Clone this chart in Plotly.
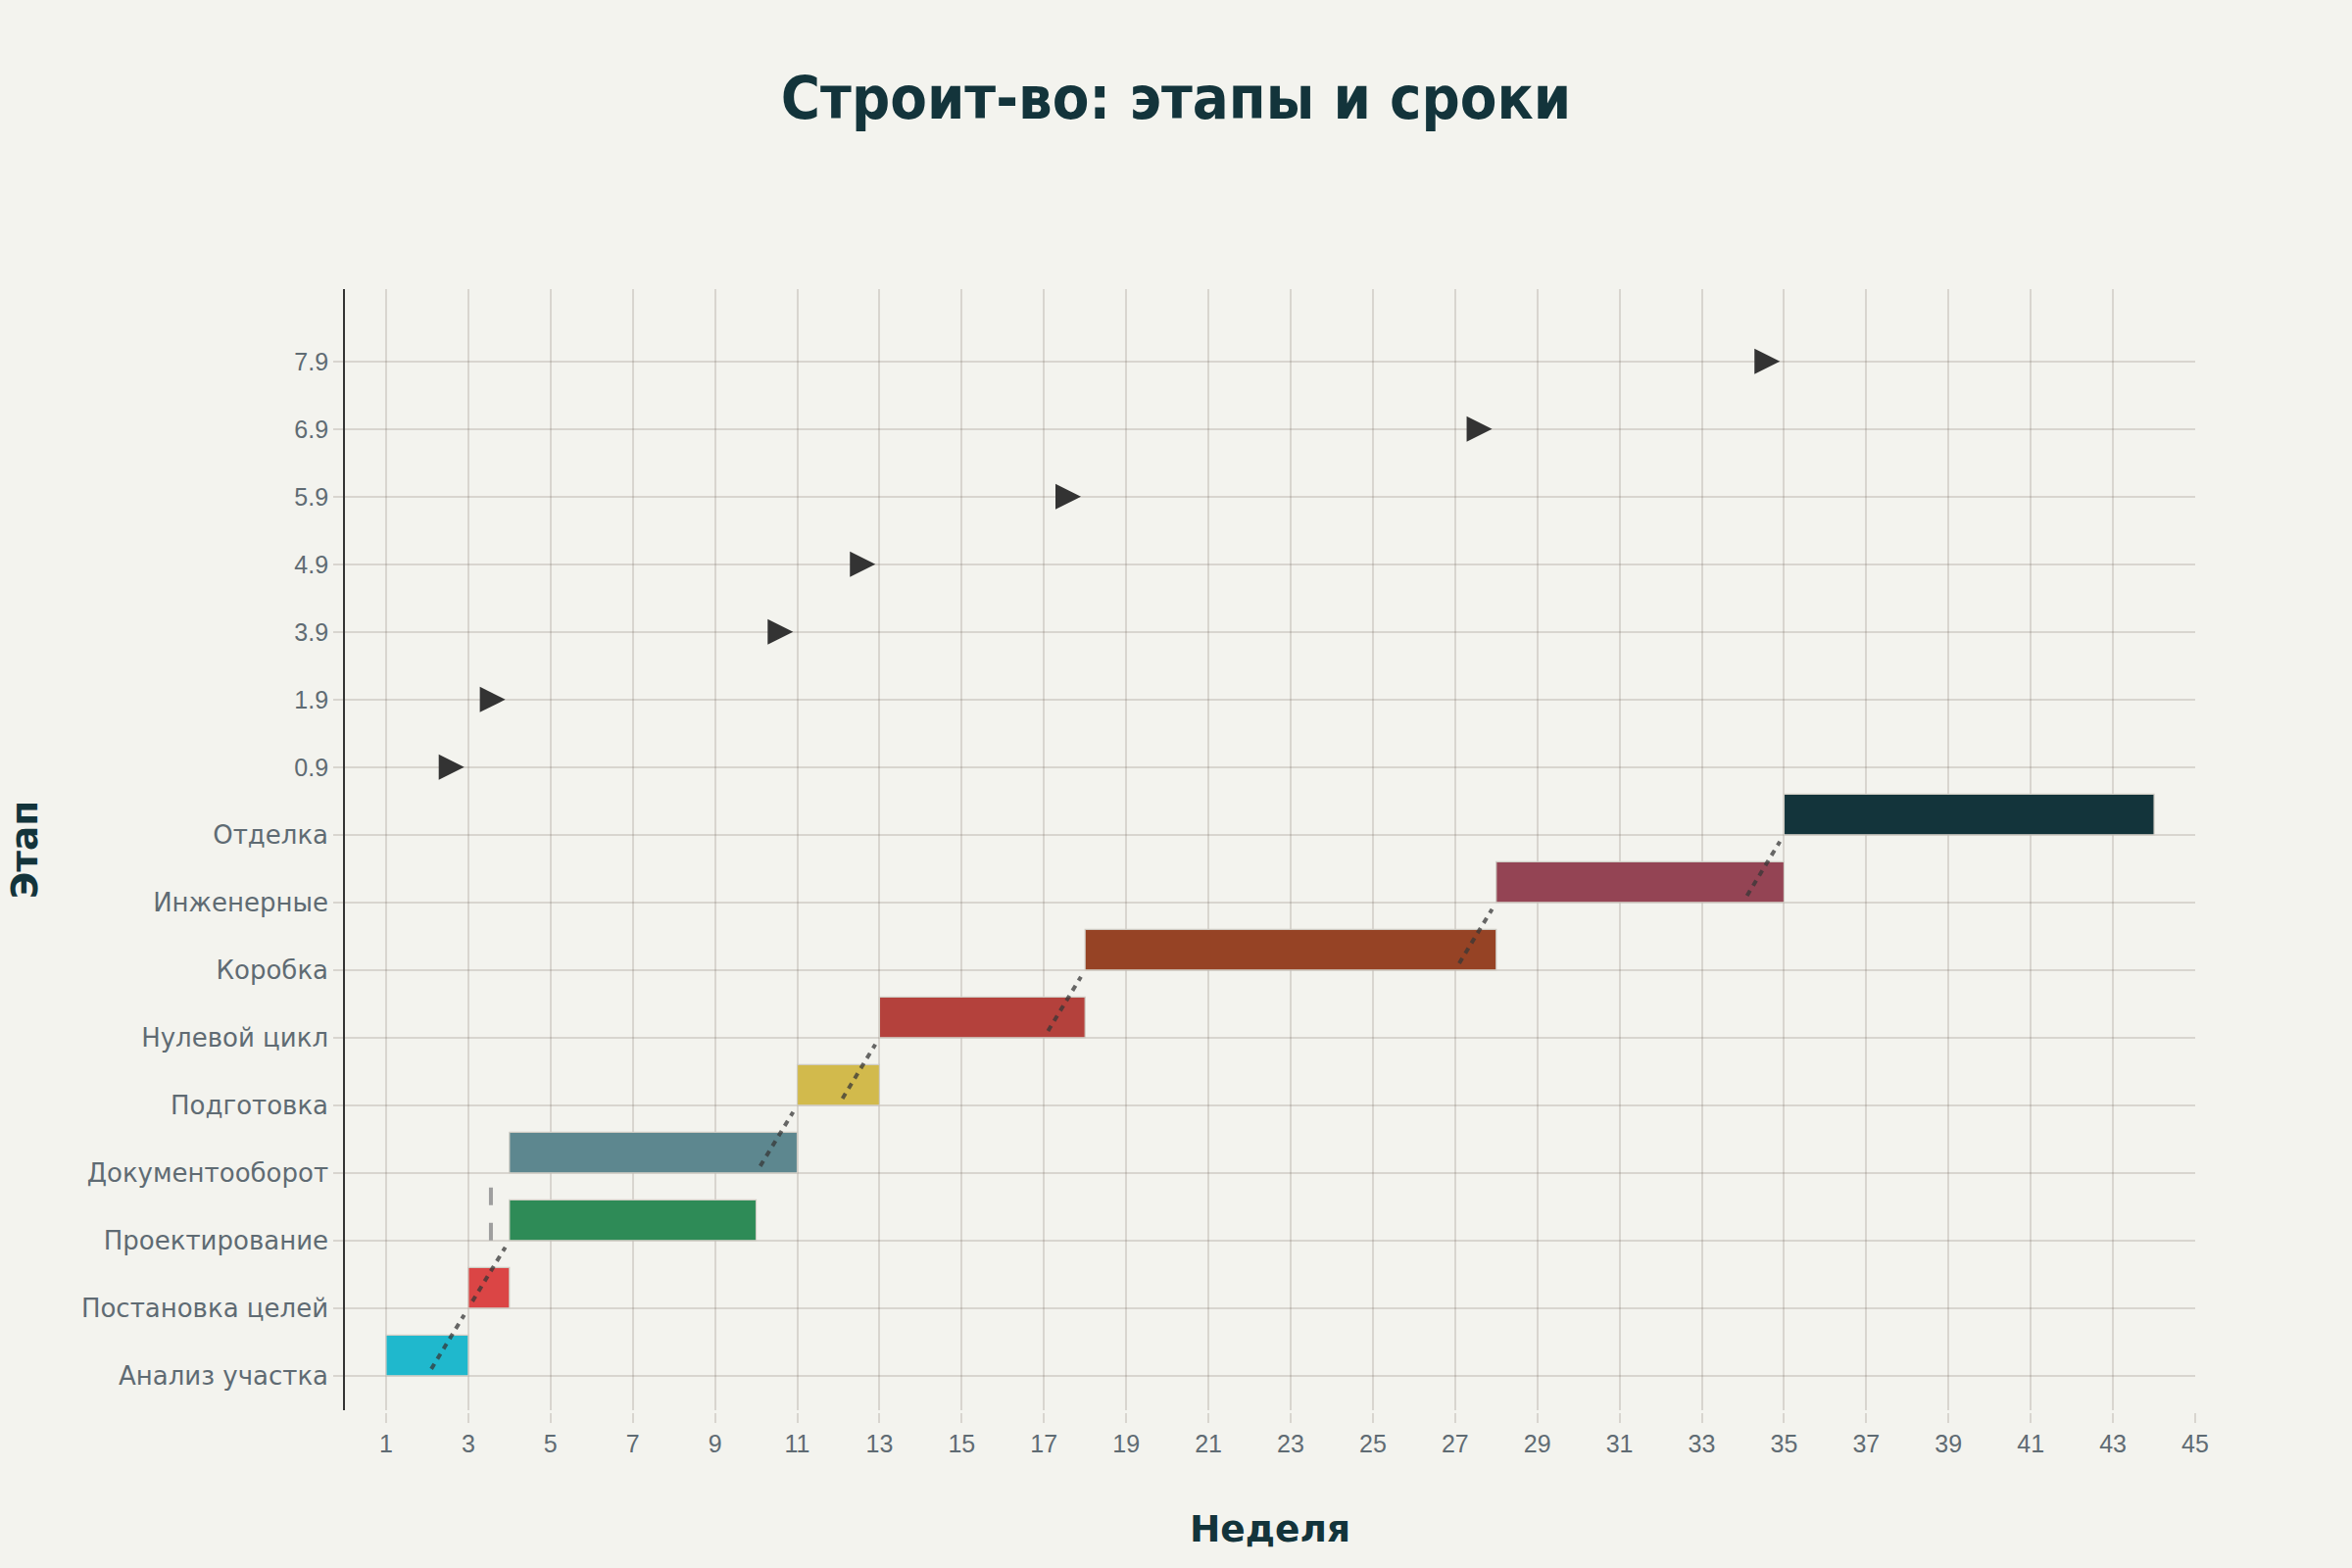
import plotly.graph_objects as go

# ---- data ----
tasks = ["Анализ участка", "Постановка целей", "Проектирование", "Документооборот",
         "Подготовка", "Нулевой цикл", "Коробка", "Инженерные", "Отделка"]
start_week = [1, 3, 4, 4, 11, 13, 18, 28, 35]
end_week = [3, 4, 10, 11, 13, 18, 28, 35, 44]
bar_colors = ["#1FB8CD", "#DB4545", "#2E8B57", "#5D878F", "#D2BA4C",
              "#B4413C", "#964325", "#944454", "#13343B"]
# finish-to-start links: (predecessor index, successor index)
fs_links = [(0, 1), (1, 2), (3, 4), (4, 5), (5, 6), (6, 7), (7, 8)]
# start-to-start links
ss_links = [(2, 3)]
x_tick_start, x_tick_step = 1, 2

# ---- derived ----
durations = [e - s for s, e in zip(start_week, end_week)]
arrow_x = [start_week[s] - 0.1 for p, s in fs_links]
arrow_cat = [f"{s - 0.1:.1f}" for p, s in fs_links]
categories = tasks + arrow_cat

link_x, link_y = [], []
for p, s in fs_links:
    link_x += [end_week[p] - 0.9, start_week[s] - 0.1, None]
    link_y += [p + 0.1, s - 0.1, None]
ss_x, ss_y = [], []
for p, s in ss_links:
    xv = start_week[p] - 0.45
    ss_x += [xv, xv, None]
    ss_y += [p, s - 0.2, None]

BG = "#F3F3EE"
GRID = "rgba(110,95,85,0.2)"
TICKC = "#5F6B73"
DARK = "#13343B"
Y_RANGE = [-0.51, 16.07]

fig = go.Figure()
fig.add_trace(go.Bar(
    y=tasks, x=durations, base=start_week, orientation="h",
    width=0.6, offset=0,
    marker=dict(color=bar_colors, line=dict(color="#CFCCC4", width=1.2)),
    showlegend=False, hoverinfo="skip",
))
fig.add_trace(go.Scatter(
    x=arrow_x, y=arrow_cat, mode="markers",
    marker=dict(symbol="arrow-right", size=26, color="#333333"),
    showlegend=False, hoverinfo="skip",
))
fig.add_trace(go.Scatter(
    x=link_x, y=link_y, yaxis="y2", mode="lines",
    line=dict(color="rgba(55,55,55,0.75)", width=4, dash="6px,6px"),
    showlegend=False, hoverinfo="skip",
))
fig.add_trace(go.Scatter(
    x=ss_x, y=ss_y, yaxis="y2", mode="lines",
    line=dict(color="#9E9E9E", width=4, dash="18px,18px"),
    showlegend=False, hoverinfo="skip",
))

tick_text = []
for c in categories:
    if c in tasks:
        tick_text.append(c)
    else:
        tick_text.append(f'<span style="font-family:Liberation Sans;font-size:25px">{c}</span>')

fig.update_layout(
    width=2400, height=1600,
    paper_bgcolor=BG, plot_bgcolor=BG,
    margin=dict(l=352, r=160, t=295, b=161),
    showlegend=False,
    title=dict(text="<b>Строит-во: этапы и сроки</b>", x=0.5, xanchor="center",
               y=0.938, yanchor="middle",
               font=dict(family="DejaVu Sans Condensed, DejaVu Sans", size=61, color=DARK)),
    xaxis=dict(
        range=[0, 45], tick0=x_tick_start, dtick=x_tick_step,
        showgrid=True, gridcolor=GRID, gridwidth=2, zeroline=False,
        ticks="outside", ticklen=10, tickwidth=1.5, tickcolor=GRID,
        showline=True, linecolor="rgba(0,0,0,0)", linewidth=3,
        tickfont=dict(family="Liberation Sans", size=25, color=TICKC),
        title=dict(text="<b>Неделя</b>", standoff=61,
                   font=dict(family="DejaVu Sans", size=37.5, color=DARK)),
    ),
    yaxis=dict(
        type="category", categoryorder="array", categoryarray=categories,
        tickmode="array", tickvals=categories, ticktext=tick_text,
        range=Y_RANGE,
        showgrid=True, gridcolor=GRID, gridwidth=2, zeroline=False,
        ticks="outside", ticklen=10, tickwidth=1.5, tickcolor=GRID,
        showline=True, linecolor="#333333", linewidth=1.5,
        tickfont=dict(family="DejaVu Sans", size=26, color=TICKC),
        title=dict(text="<b>Этап</b>", standoff=33,
                   font=dict(family="DejaVu Sans", size=37.5, color=DARK)),
    ),
    yaxis2=dict(overlaying="y", anchor="x", type="linear", range=Y_RANGE,
                visible=False, showgrid=False, zeroline=False),
)

fig.write_html("out.html")
